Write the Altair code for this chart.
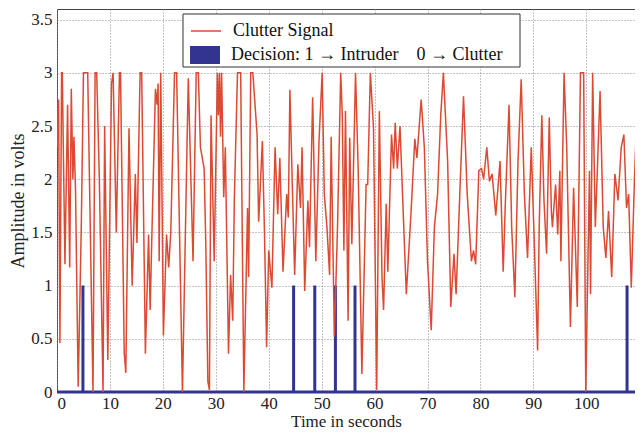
import altair as alt
import pandas as pd

# Clutter signal (time in s, amplitude in V)
sig_t = [0.0, 0.3, 0.55, 0.87, 1.0, 1.5, 2.0, 2.4, 2.7, 3.0, 3.2, 3.5, 4.0, 4.3, 4.6, 5.0, 5.8, 6.8, 7.2, 7.5,
         8.0, 8.7, 9.0, 9.6, 10.3, 10.6, 11.2, 11.8, 12.0, 12.7, 13.0, 13.6, 14.2, 14.8, 15.1, 15.7, 16.0, 16.7, 17.3, 17.6,
         17.9, 18.6, 18.9, 19.1, 19.3, 19.6, 20.1, 20.7, 21.1, 21.5, 22.2, 22.6, 23.7, 24.8, 25.7, 26.3, 26.7, 27.1, 27.8, 28.1,
         28.5, 28.8, 29.1, 29.7, 30.3, 30.5, 30.7, 30.9, 31.1, 31.5, 31.8, 32.4, 32.8, 33.2, 33.5, 34.1, 34.7, 35.3, 36.0, 36.2,
         36.6, 37.0, 37.8, 38.1, 38.8, 39.2, 39.6, 40.0, 40.6, 41.2, 41.7, 42.1, 42.7, 43.4, 43.7, 44.0, 44.5, 44.9, 45.5, 46.0,
         46.3, 46.8, 47.4, 47.7, 48.3, 48.9, 49.5, 50.1, 50.5, 51.0, 51.5, 51.8, 52.4, 53.0, 53.6, 53.9, 54.2, 54.5, 55.0, 55.3,
         55.7, 56.4, 56.9, 57.6, 58.4, 58.7, 59.2, 59.8, 60.4, 60.9, 61.4, 61.7, 62.2, 62.5, 63.2, 63.6, 63.9, 64.3, 64.8, 65.4,
         66.0, 66.9, 67.6, 68.0, 68.8, 69.4, 70.0, 70.7, 71.3, 71.9, 72.5, 73.0, 73.8, 74.4, 75.0, 75.4, 76.1, 76.8, 77.5, 78.3,
         78.7, 79.1, 79.7, 80.2, 80.6, 81.2, 81.7, 82.2, 82.9, 83.7, 84.3, 84.7, 85.4, 85.9, 86.5, 87.1, 87.7, 88.3, 88.9, 89.6,
         90.2, 90.8, 91.1, 91.6, 92.0, 92.5, 93.0, 93.4, 93.6, 94.2, 94.6, 95.0, 95.2, 95.8, 96.3, 97.0, 97.6, 98.3, 98.9, 99.5,
         99.9, 100.6, 100.8, 101.2, 101.7, 102.1, 102.6, 103.2, 103.7, 104.2, 104.8, 105.4, 106.0, 106.6, 107.1, 107.6, 108.0, 108.5, 109.1, 109.5]
sig_v = [2.3, 2.75, 0.46, 3.0, 3.0, 1.2, 2.7, 1.17, 2.85, 2.0, 2.4, 1.9, 0.05, 0.8, 1.6, 3.0, 3.0, 0.0, 3.0, 3.0,
         2.0, 0.0, 2.5, 0.3, 2.9, 3.0, 1.5, 3.0, 3.0, 0.37, 0.18, 2.48, 1.0, 2.05, 1.4, 3.0, 3.0, 0.36, 1.48, 0.77,
         1.42, 2.85, 2.7, 2.9, 1.23, 3.0, 0.53, 1.48, 1.17, 1.5, 3.0, 3.0, 0.0, 2.95, 1.23, 3.0, 3.0, 2.3, 2.1, 1.42,
         0.1, 0.02, 2.6, 1.23, 3.0, 2.6, 3.0, 2.4, 3.0, 1.83, 2.3, 0.36, 1.1, 0.67, 1.8, 3.0, 3.0, 0.0, 1.73, 1.08,
         3.0, 3.0, 2.42, 1.6, 2.36, 1.5, 0.42, 1.33, 0.98, 2.3, 1.67, 2.2, 1.13, 1.86, 1.64, 2.84, 1.86, 1.1, 2.14, 1.73,
         2.3, 0.95, 1.8, 1.36, 2.77, 1.23, 2.36, 3.0, 1.86, 1.55, 1.1, 2.4, 0.52, 1.55, 3.0, 2.6, 1.33, 2.64, 0.67, 2.39,
         1.39, 3.0, 2.1, 0.17, 1.95, 1.95, 3.0, 2.48, 0.02, 2.64, 1.08, 0.77, 1.77, 1.13, 2.42, 2.1, 2.53, 2.1, 2.5, 1.7,
         0.92, 1.7, 2.38, 2.2, 2.75, 2.3, 1.23, 0.58, 1.55, 1.86, 2.6, 3.0, 2.17, 0.8, 1.3, 0.92, 1.86, 2.78, 1.86, 1.23,
         1.33, 1.2, 2.08, 2.1, 2.0, 2.3, 1.98, 2.05, 1.66, 2.17, 1.13, 1.77, 2.7, 1.55, 0.89, 2.17, 2.94, 1.86, 1.26, 2.3,
         1.36, 0.39, 1.55, 2.6, 1.8, 1.3, 2.58, 1.7, 1.55, 1.95, 1.48, 2.08, 1.23, 3.0, 2.3, 0.61, 1.92, 0.8, 3.0, 3.0,
         0.0, 2.08, 0.92, 3.0, 1.55, 2.1, 2.83, 1.55, 1.26, 1.7, 1.08, 2.05, 1.8, 2.3, 2.42, 1.73, 1.86, 0.98, 2.0, 2.55]

# Decision spikes (intruder = 1) times
spike_t = [4.9, 44.7, 48.7, 52.6, 56.3, 107.7]
t_end = 109.2

x_ticks = [0, 10, 20, 30, 40, 50, 60, 70, 80, 90, 100]
y_ticks = [0, 0.5, 1, 1.5, 2, 2.5, 3, 3.5]

SIG_NAME = "Clutter Signal"
DEC_NAME = "Decision: 1 \u2192 Intruder \u00a0\u00a0\u00a00 \u2192 Clutter"
RED = "#dc4a33"
BLUE = "#33348f"
FONT = "Liberation Serif"

sig_df = pd.DataFrame({"t": sig_t, "v": sig_v, "s": SIG_NAME})

dec_t, dec_v = [0.0], [0.0]
for s in spike_t:
    dec_t += [s, s, s]
    dec_v += [0, 1, 0]
dec_t.append(t_end)
dec_v.append(0)
dec_df = pd.DataFrame({"t": dec_t, "v": dec_v, "s": DEC_NAME, "o": list(range(len(dec_t)))})

xs = alt.Scale(domain=[0, t_end], nice=False, zero=False)
ys = alt.Scale(domain=[0, 3.6], nice=False)

x_axis = alt.Axis(values=x_ticks, title="Time in seconds", format="d")
y_axis = alt.Axis(values=y_ticks, title="Amplitude in volts", labelExpr="format(datum.value, '')")

box = alt.Chart(alt.Data(values=[{"a": 1}])).mark_rect(
    fill="white", stroke="#333", strokeWidth=1
).encode(x=alt.value(126), x2=alt.value(463), y=alt.value(5), y2=alt.value(58))

dec = alt.Chart(dec_df).mark_line(strokeWidth=3, interpolate="linear").encode(
    x=alt.X("t:Q", scale=xs, axis=x_axis),
    y=alt.Y("v:Q", scale=ys, axis=y_axis),
    order="o:Q",
    stroke=alt.Stroke("s:N", scale=alt.Scale(domain=[DEC_NAME], range=[BLUE]),
                      legend=alt.Legend(title=None, orient="none", legendX=133, legendY=31,
                                        symbolType="M-1,-0.6H1V0.6H-1Z", symbolSize=900,
                                        symbolFillColor=BLUE, symbolStrokeWidth=0, labelOffset=11,
                                        labelLimit=600, padding=0)),
)

sig = alt.Chart(sig_df).mark_line(strokeWidth=1.5, clip=True).encode(
    x=alt.X("t:Q", scale=xs, axis=x_axis),
    y=alt.Y("v:Q", scale=ys, axis=y_axis),
    stroke=alt.Stroke("s:N", scale=alt.Scale(domain=[SIG_NAME], range=[RED]),
                      legend=alt.Legend(title=None, orient="none", legendX=133, legendY=6,
                                        symbolType="stroke", symbolSize=900, symbolStrokeWidth=1.5,
                                        labelOffset=11, labelLimit=600, padding=0)),
)

chart = alt.layer(box, dec, sig).resolve_scale(stroke="independent").properties(
    width=578, height=383,
    autosize=alt.AutoSizeParams(type="none"),
    padding={"left": 49, "top": 1, "right": 0, "bottom": 39},
).configure_view(
    stroke="#444", strokeWidth=1
).configure_axis(
    labelFont=FONT, labelFontSize=17, labelColor="#222",
    titleFont=FONT, titleFontSize=17, titleColor="#222", titleFontWeight="normal",
    grid=True, gridColor="#8a8a8a", gridDash=[1, 2], gridWidth=1,
    domain=False, ticks=False,
).configure_axisX(
    labelPadding=3, titlePadding=2,
).configure_axisY(
    labelPadding=5, titlePadding=3, titleFontSize=18,
).configure_legend(
    labelFont=FONT, labelFontSize=18, labelColor="#111",
)

chart.save("out.html", embed_options={"renderer": "svg", "actions": False})
